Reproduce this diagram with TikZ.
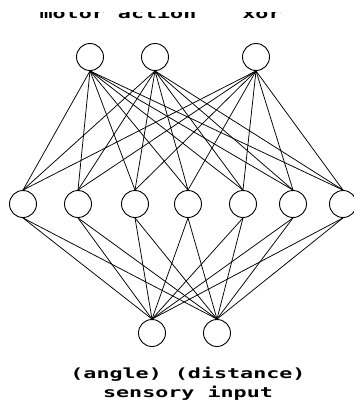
\documentclass[tikz,border=0pt]{standalone}
\usepackage{fontspec}
\newfontfamily\pixfont{DejaVu Sans Mono}[FakeStretch=1.55]

\begin{document}
\begin{tikzpicture}[x=1pt,y=-1pt,line cap=round,line join=round,
  unit/.style={circle,draw,line width=.9pt,minimum size=27pt,inner sep=0pt},
  link/.style={black,line width=.75pt},
  lbl/.style={font=\pixfont\bfseries\fontsize{14}{14}\selectfont,inner sep=0pt,anchor=base}]
  \useasboundingbox (0,0) rectangle (354,408);
  \clip (0,0) rectangle (354,408);

  \foreach \n/\x in {1/90,2/155,3/256}
    \node[unit] (Out\n) at (\x,57) {};
  \foreach \n/\x in {1/23,2/78,3/135,4/188,5/243,6/293,7/343}
    \node[unit] (Hid\n) at (\x,204) {};
  \foreach \n/\x in {1/152,2/217}
    \node[unit] (In\n) at (\x,333) {};

  \foreach \i in {1,2,3}
    \foreach \j in {1,...,7}
      \draw[link] (Out\i.south) -- (Hid\j.north);
  \foreach \j in {1,...,7}
    \foreach \k in {1,2}
      \draw[link] (Hid\j.south) -- (In\k.north);

  \begin{scope}
    \clip (0,12) rectangle (354,20);
    \node[lbl] (Motor) at (118,18) {motor action};
    \node[lbl] (Xor) at (262,18) {xor};
  \end{scope}
  \node[lbl] (Which) at (188,378) {(angle) (distance)};
  \node[lbl] (Sense) at (188,397) {sensory input};
\end{tikzpicture}
\end{document}
